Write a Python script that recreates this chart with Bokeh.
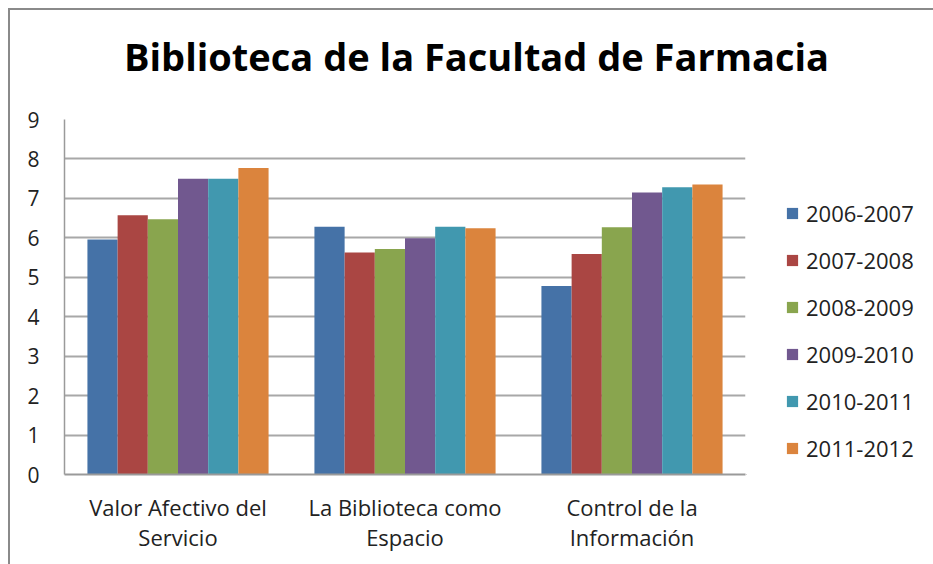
from bokeh.plotting import figure
from bokeh.models import ColumnDataSource, FactorRange, FixedTicker, Legend, LegendItem, Label
from bokeh.layouts import row, column
from bokeh.transform import dodge
from bokeh.embed import file_html
from bokeh.resources import INLINE

categories = ["Valor Afectivo del\nServicio", "La Biblioteca como\nEspacio", "Control de la\nInformación"]
series_names = ["2006-2007", "2007-2008", "2008-2009", "2009-2010", "2010-2011", "2011-2012"]
s2006 = [5.96, 6.28, 4.78]
s2007 = [6.57, 5.63, 5.59]
s2008 = [6.47, 5.72, 6.27]
s2009 = [7.50, 5.99, 7.15]
s2010 = [7.50, 6.28, 7.28]
s2011 = [7.77, 6.24, 7.35]
colors = ["#4572A7", "#AA4643", "#89A54E", "#71588F", "#4198AF", "#DB843D"]
y_ticks = [0, 1, 2, 3, 4, 5, 6, 7, 8, 9]
title_text = "Biblioteca de la Facultad de Farmacia"

FONT = "Open Sans"
TXT = "#222222"
series = [s2006, s2007, s2008, s2009, s2010, s2011]
data = {"cat": categories}
for name, vals in zip(series_names, series):
    data[name] = vals
src = ColumnDataSource(data)


def bare(width, height):
    f = figure(width=width, height=height, output_backend="svg", toolbar_location=None,
               min_border=0, x_range=(0, 1), y_range=(0, 1))
    f.axis.visible = False
    f.grid.visible = False
    f.outline_line_color = None
    f.border_fill_color = "white"
    return f


# title strip
tfig = bare(923, 89)
tfig.add_layout(Label(x=466, y=44, x_units="screen", y_units="screen", text=title_text,
                      text_font=FONT, text_font_style="bold", text_font_size="38px",
                      text_align="center", text_baseline="middle", text_color="#000000"))

# main chart
p = figure(x_range=FactorRange(*categories), y_range=(0, 9), width=736, height=465,
           output_backend="svg", toolbar_location=None,
           min_border_left=54, min_border_right=1, min_border_top=20, min_border_bottom=90)
p.outline_line_color = None
p.border_fill_color = "white"

w = 0.133
for i, (name, col) in enumerate(zip(series_names, colors)):
    off = (i - 2.5) * w
    p.vbar(x=dodge("cat", off, range=p.x_range), top=name, width=w, source=src,
           fill_color=col, line_color=None)

p.xgrid.grid_line_color = None
p.ygrid.ticker = FixedTicker(ticks=y_ticks[1:-1])
p.ygrid.grid_line_color = "#a8a8a8"
p.ygrid.grid_line_width = 2

p.yaxis.ticker = FixedTicker(ticks=y_ticks)
p.yaxis.axis_line_color = "#9a9a9a"
p.yaxis.axis_line_width = 1.5
p.yaxis.major_tick_line_color = None
p.yaxis.minor_tick_line_color = None
p.yaxis.major_label_standoff = 19
p.yaxis.major_label_text_font = FONT
p.yaxis.major_label_text_font_size = "21px"
p.yaxis.major_label_text_color = TXT

p.xaxis.axis_line_color = "#9a9a9a"
p.xaxis.axis_line_width = 2
p.xaxis.major_tick_line_color = None
p.xaxis.minor_tick_line_color = None
p.xaxis.major_label_standoff = 11
p.xaxis.major_label_text_font = FONT
p.xaxis.major_label_text_font_size = "22px"
p.xaxis.major_label_text_color = TXT
p.xaxis.major_label_text_line_height = 1.03

# legend strip (swatch glyphs sit outside the visible range)
lfig = bare(187, 465)
items = []
for name, col in zip(series_names, colors):
    r = lfig.vbar(x=[-5], top=[-5], bottom=[-6], width=0.1, fill_color=col, line_color=None)
    items.append(LegendItem(label=name, renderers=[r]))
legend = Legend(items=items, location=(39, 11), orientation="vertical",
                label_text_font=FONT, label_text_font_size="22px", label_text_color=TXT,
                glyph_width=14, glyph_height=14, label_standoff=7, spacing=17,
                padding=0, margin=0, border_line_color=None, background_fill_alpha=0)
lfig.add_layout(legend, "center")

layout = column(tfig, row(p, lfig, spacing=0), spacing=0)
layout.styles = {"border-left": "2px solid #8a8a8a", "border-top": "2px solid #8a8a8a",
                 "margin-left": "8px", "margin-top": "8px"}

open("out.html", "w").write(file_html(layout, INLINE))
